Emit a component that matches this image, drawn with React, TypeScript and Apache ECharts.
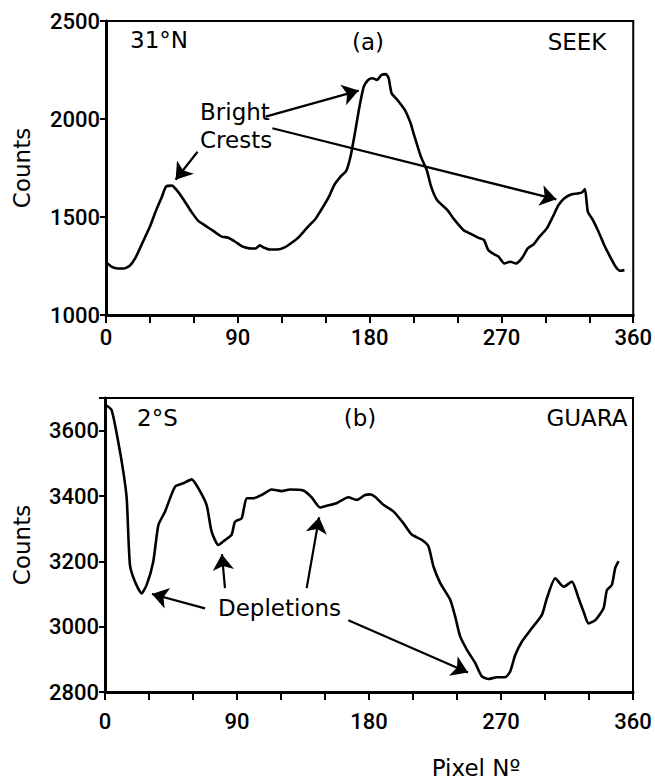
import React, { useEffect, useRef } from 'react';
import * as echarts from 'echarts';

// Panel (a): 31°N SEEK
const topPixels = [
  0, 4, 8, 12, 16, 20, 25, 30, 34, 38,
  41, 45, 48, 52, 58, 63, 68, 74, 79, 83,
  88, 93, 98, 102, 105, 108, 112, 117, 122, 127,
  132, 138, 143, 147, 152, 156, 160, 164, 167, 170,
  173, 176, 179, 182, 185, 188, 191, 193, 195, 199,
  204, 208, 210, 215, 219, 222, 226, 233, 238, 244,
  250, 254, 258, 261, 265, 268, 272, 276, 280, 284,
  288, 292, 296, 301, 305, 309, 313, 318, 322, 325,
  327, 329, 332, 336, 340, 344, 348, 351, 354,
];
const topCounts = [
  1271, 1245, 1237, 1237, 1250, 1290, 1370, 1451, 1530, 1600,
  1655, 1660, 1640, 1600, 1530, 1480, 1455, 1425, 1400, 1395,
  1375, 1350, 1340, 1339, 1355, 1343, 1334, 1334, 1345, 1370,
  1400, 1451, 1490, 1537, 1600, 1665, 1705, 1735, 1810, 1930,
  2060, 2165, 2199, 2208, 2199, 2224, 2229, 2208, 2131, 2097,
  2046, 1978, 1927, 1808, 1740, 1655, 1587, 1536, 1485, 1434,
  1410, 1395, 1383, 1332, 1310, 1298, 1263, 1272, 1263, 1290,
  1340, 1360, 1400, 1442, 1500, 1561, 1596, 1616, 1620, 1625,
  1642, 1527, 1490, 1430, 1360, 1300, 1246, 1226, 1229,
];

// Panel (b): 2°S GUARA
const bottomPixels = [
  0, 4.5, 9, 12.5, 14.8, 17, 20.4, 24.9, 28.4, 32.9,
  36.4, 40.9, 47.7, 53.4, 59.1, 63.6, 69.3, 72.7, 77.3, 81.8,
  86.3, 88.6, 93.2, 96.6, 101.1, 106.8, 113.6, 120.5, 126.1, 135.2,
  140.9, 146.6, 151.1, 157.9, 165.9, 171.6, 177.3, 180.7, 184.1, 189.8,
  196.6, 203.4, 209.1, 215.9, 220.5, 223.9, 228.5, 235.3, 238.7, 242.1,
  246.7, 252.4, 256.9, 261.5, 267.1, 272.8, 276.2, 279.7, 284.2, 291,
  297.9, 301.3, 307, 312.7, 318.3, 322.9, 326.3, 329.7, 334.3, 339.9,
  342.2, 345.6, 347.9, 350.2,
];
const bottomCounts = [
  3680, 3663, 3566, 3474, 3393, 3189, 3138, 3102, 3128, 3199,
  3311, 3352, 3428, 3439, 3451, 3424, 3372, 3291, 3250, 3265,
  3281, 3321, 3332, 3393, 3393, 3403, 3420, 3415, 3420, 3417,
  3396, 3365, 3370, 3378, 3396, 3388, 3403, 3405, 3398, 3373,
  3353, 3317, 3282, 3266, 3246, 3185, 3134, 3083, 3032, 2971,
  2930, 2889, 2848, 2840, 2845, 2845, 2862, 2913, 2954, 2995,
  3036, 3087, 3148, 3122, 3138, 3087, 3046, 3010, 3020, 3056,
  3112, 3128, 3180, 3201,
];

const xLabelStep = 90;
const topYRange = [1000, 2500];
const bottomYRange = [2800, 3700];
const bottomYLabelMax = 3600;

// arrows: [fromPixel, fromCount, toPixel, toCount]
const topArrows = [
  [109, 2012, 172.5, 2145],
  [113.6, 1953, 307.5, 1590],
  [62.5, 1833, 47.5, 1690],
];
const bottomArrows = [
  [68.2, 3056, 32, 3100],
  [81.8, 3118, 79.7, 3222],
  [137.5, 3118, 146, 3335],
  [165.9, 3020, 247.5, 2860],
];

const TICK_FONT = 'Roboto, "DejaVu Sans", sans-serif';
const TEXT_FONT = '"DejaVu Sans", sans-serif';

export default function App() {
  const ref = useRef<HTMLDivElement>(null);
  useEffect(() => {
    if (!ref.current) return;
    const chart = echarts.init(ref.current, null, { renderer: 'svg' });
    const mkX = (gi: number, margin: number) => ({
      type: 'value',
      gridIndex: gi,
      min: 0,
      max: 360,
      interval: 30,
      axisLine: { show: true, onZero: false, lineStyle: { color: '#000', width: 3 } },
      axisTick: { show: true, length: 8, lineStyle: { color: '#000', width: 2 } },
      axisLabel: {
        color: '#000',
        fontSize: 22,
        fontWeight: 500,
        fontFamily: TICK_FONT,
        margin,
        formatter: (v: number) => (v % xLabelStep === 0 ? String(v) : ''),
      },
      splitLine: { show: false },
    });
    const mkY = (gi: number, range: number[], interval: number, labelMax: number) => ({
      type: 'value',
      gridIndex: gi,
      min: range[0],
      max: range[1],
      interval,
      axisLine: { show: true, onZero: false, lineStyle: { color: '#000', width: 3 } },
      axisTick: { show: true, length: 6, lineStyle: { color: '#000', width: 2 } },
      axisLabel: {
        color: '#000',
        fontSize: 22,
        fontWeight: 500,
        fontFamily: TICK_FONT,
        margin: 6,
        formatter: (v: number) => (v <= labelMax ? String(v) : ''),
      },
      splitLine: { show: false },
    });
    const arrowLines = (arr: number[][]) => ({
      silent: true,
      symbol: ['none', 'arrow'],
      symbolSize: 16,
      label: { show: false },
      lineStyle: { color: '#000', width: 2.2, type: 'solid' },
      itemStyle: { color: '#000' },
      emphasis: { disabled: true },
      data: arr.map((a) => [{ coord: [a[0], a[1]] }, { coord: [a[2], a[3]] }]),
    });
    const txt = (text: string, x: number, y: number, align: string, extra: any = {}) => ({
      type: 'text',
      x,
      y,
      silent: true,
      ...extra,
      style: {
        text,
        fill: '#000',
        font: `23px ${TEXT_FONT}`,
        textAlign: align,
        textVerticalAlign: 'middle',
      },
    });
    chart.setOption({
      animation: false,
      backgroundColor: '#fff',
      grid: [
        { left: 106, top: 21, width: 528, height: 294, show: true, borderColor: '#000', borderWidth: 2, backgroundColor: 'transparent' },
        { left: 105, top: 398, width: 528, height: 294, show: true, borderColor: '#000', borderWidth: 2, backgroundColor: 'transparent' },
      ],
      xAxis: [mkX(0, 11), mkX(1, 18)],
      yAxis: [mkY(0, topYRange, 500, topYRange[1]), mkY(1, bottomYRange, 200, bottomYLabelMax)],
      series: [
        {
          type: 'line',
          xAxisIndex: 0,
          yAxisIndex: 0,
          data: topPixels.map((p, i) => [p, topCounts[i]]),
          showSymbol: false,
          smooth: 0.2,
          lineStyle: { color: '#000', width: 2.6 },
          markLine: arrowLines(topArrows),
        },
        {
          type: 'line',
          xAxisIndex: 1,
          yAxisIndex: 1,
          data: bottomPixels.map((p, i) => [p, bottomCounts[i]]),
          showSymbol: false,
          smooth: 0.2,
          lineStyle: { color: '#000', width: 2.6 },
          markLine: arrowLines(bottomArrows),
        },
      ],
      graphic: [
        txt('31°N', 130, 40, 'left'),
        txt('(a)', 368, 42, 'center'),
        txt('SEEK', 577, 42, 'center'),
        txt('2°S', 137, 418, 'left'),
        txt('(b)', 360, 418, 'center'),
        txt('GUARA', 587, 418, 'center'),
        txt('Bright', 200, 112, 'left'),
        txt('Crests', 200, 140, 'left'),
        txt('Depletions', 218, 608, 'left'),
        txt('Counts', 22, 168, 'center', { rotation: Math.PI / 2 }),
        txt('Counts', 22, 545, 'center', { rotation: Math.PI / 2 }),
        txt('Pixel Nº', 476, 768, 'center'),
      ],
    });
    return () => chart.dispose();
  }, []);
  return <div ref={ref} style={{ position: 'absolute', left: 0, top: 0, width: 655, height: 783 }} />;
}
